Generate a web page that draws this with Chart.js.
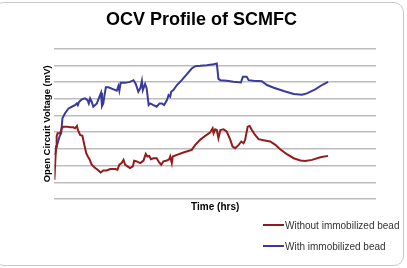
<!DOCTYPE html>
<html>
<head>
<meta charset="utf-8">
<script src="https://cdn.jsdelivr.net/npm/chart.js@4.4.0/dist/chart.umd.min.js"></script>
<style>
    body { margin: 0; background: #fff; }
    #wrap { position: relative; width: 407px; height: 268px; overflow: hidden; }
    #frame {
        position: absolute; left: -6px; top: 2px; width: 410px; height: 264px;
        border: 1px solid #c8c8c8; border-radius: 10px; box-sizing: border-box;
    }
    #legend {
        position: absolute; left: 263px; top: 218px;
        font: 10px "Liberation Sans", Arial, sans-serif; color: #333;
    }
    .item { display: flex; align-items: center; height: 14px; margin-bottom: 7px; }
    .swatch { width: 21px; height: 2px; margin-right: 1px; }
</style>
</head>
<body>
<div id="wrap">
    <div id="frame"></div>
    <canvas id="ocvChart" width="407" height="268"></canvas>
    <div id="legend"></div>
</div>
<script>
// Series values (time in arbitrary hrs units, voltage in mV-like units)
const labels = ['Without immobilized bead', 'With immobilized bead'];
const colors = ['#931b1b', '#3a3a9c'];

const timeWithout = [0, 0.2, 0.5, 0.7, 1.0, 1.8, 2.3, 2.8, 3.8, 4.9, 5.9, 6.4, 7.0, 7.3, 8.0, 8.7, 9.2, 9.9, 10.4, 10.9,
    11.6, 12.7, 13.7, 14.4, 15.2, 16.3, 17.3, 18.9, 19.6, 20.2, 20.9, 21.5, 22.0, 22.7, 23.5, 24.4, 24.8, 25.6, 26.7, 27.7,
    28.4, 28.9, 29.5, 30.0, 30.8, 31.8, 32.6, 33.2, 33.9, 35.0, 35.7, 36.0, 36.5, 36.8, 38.1, 40.1, 42.7, 43.8, 45.3, 46.9,
    48.4, 49.2, 49.5, 50.0, 50.5, 51.0, 51.6, 52.6, 53.6, 54.7, 55.4, 56.2, 57.3, 58.1, 58.8, 59.3, 60.1, 60.7, 61.4, 62.4,
    63.5, 65.0, 67.1, 68.7, 70.2, 72.3, 74.4, 76.5, 78.0, 80.1, 82.7, 85.1];
const ocvWithout = [115, 195, 314, 374, 393, 393, 423, 433, 433, 429, 429, 423, 437, 413, 383, 378, 334, 274, 254, 238,
    205, 185, 171, 159, 171, 171, 179, 179, 175, 205, 215, 234, 205, 195, 185, 195, 229, 225, 215, 230,
    270, 254, 258, 238, 244, 244, 219, 205, 225, 230, 238, 254, 215, 254, 264, 278, 294, 324, 354, 378,
    397, 423, 393, 417, 413, 364, 413, 417, 403, 354, 314, 304, 324, 344, 334, 354, 433, 437, 413, 383,
    358, 352, 344, 324, 298, 268, 244, 230, 227, 234, 250, 258];

const timeWith = [0.2, 0.7, 1.6, 2.1, 2.5, 3.3, 4.4, 5.4, 6.4, 7.0, 7.3, 7.7, 8.5, 9.5, 10.3, 10.7, 11.1, 11.6, 12.1, 13.2,
    14.2, 14.5, 14.8, 15.2, 15.5, 16.0, 16.8, 18.4, 19.4, 19.9, 20.2, 20.6, 22.0, 23.5, 24.6, 25.3, 26.1, 26.7, 27.2, 27.5,
    28.2, 28.7, 29.3, 29.8, 30.8, 31.8, 32.7, 33.4, 34.1, 35.0, 35.5, 36.0, 36.3, 37.0, 38.1, 39.6, 41.2, 42.7, 43.8, 45.3,
    47.4, 49.5, 50.5, 51.0, 51.6, 53.6, 55.7, 58.0, 58.6, 59.8, 60.4, 61.9, 64.5, 66.1, 68.2, 71.3, 74.4, 77.0, 78.5, 81.1,
    83.2, 85.1];
const ocvWith = [264, 314, 374, 393, 483, 513, 542, 552, 562, 572, 562, 582, 596, 602, 592, 572, 602, 582, 552, 572,
    622, 636, 556, 572, 612, 668, 668, 656, 648, 676, 648, 695, 695, 701, 711, 689, 642, 662, 707, 652,
    689, 662, 562, 572, 562, 552, 572, 572, 562, 592, 622, 612, 642, 652, 682, 711, 747, 781, 795, 797,
    801, 807, 811, 719, 711, 707, 701, 697, 731, 731, 711, 707, 705, 682, 666, 646, 628, 624, 632, 656,
    682, 701];

const yMin = 0, yMax = 900, yStep = 100;
const xMin = 0, xMax = 100;

const toPoints = (xs, ys) => xs.map((x, i) => ({ x: x, y: ys[i] }));

const fontFamily = '"Liberation Sans", Arial, sans-serif';

const ctx = document.getElementById('ocvChart').getContext('2d');
const chart = new Chart(ctx, {
    type: 'line',
    data: {
        datasets: [{
            label: labels[0],
            data: toPoints(timeWithout, ocvWithout),
            borderColor: colors[0],
            borderWidth: 2,
            pointRadius: 0,
            tension: 0
        }, {
            label: labels[1],
            data: toPoints(timeWith, ocvWith),
            borderColor: colors[1],
            borderWidth: 2,
            pointRadius: 0,
            tension: 0
        }]
    },
    options: {
        responsive: false,
        animation: false,
        layout: {
            padding: { left: 27, right: 31, top: 0, bottom: 55 }
        },
        plugins: {
            legend: { display: false },
            tooltip: { enabled: false },
            title: {
                display: true,
                text: 'OCV Profile of SCMFC',
                color: '#000',
                font: { family: fontFamily, size: 18, weight: 'bold' },
                padding: { top: 9, bottom: 18 }
            }
        },
        scales: {
            x: {
                type: 'linear',
                min: xMin,
                max: xMax,
                ticks: { display: false },
                grid: { display: false, drawTicks: false },
                border: { display: false },
                title: {
                    display: true,
                    text: 'Time (hrs)',
                    color: '#000',
                    font: { family: fontFamily, size: 10, weight: 'bold' },
                    padding: { top: 2, bottom: 0 }
                }
            },
            y: {
                min: yMin,
                max: yMax,
                ticks: { display: false, stepSize: yStep },
                grid: { color: '#bdbdbd', lineWidth: 1.5, drawTicks: false },
                border: { display: false },
                title: {
                    display: true,
                    text: 'Open Circuit Voltage (mV)',
                    color: '#000',
                    font: { family: fontFamily, size: 9.5, weight: 'bold' },
                    padding: { top: 15, bottom: 1 }
                }
            }
        }
    }
});

// HTML legend, stacked vertically like the reference
const legend = document.getElementById('legend');
chart.data.datasets.forEach(ds => {
    const item = document.createElement('div');
    item.className = 'item';
    const swatch = document.createElement('span');
    swatch.className = 'swatch';
    swatch.style.background = ds.borderColor;
    const text = document.createElement('span');
    text.textContent = ds.label;
    item.appendChild(swatch);
    item.appendChild(text);
    legend.appendChild(item);
});
</script>
</body>
</html>
